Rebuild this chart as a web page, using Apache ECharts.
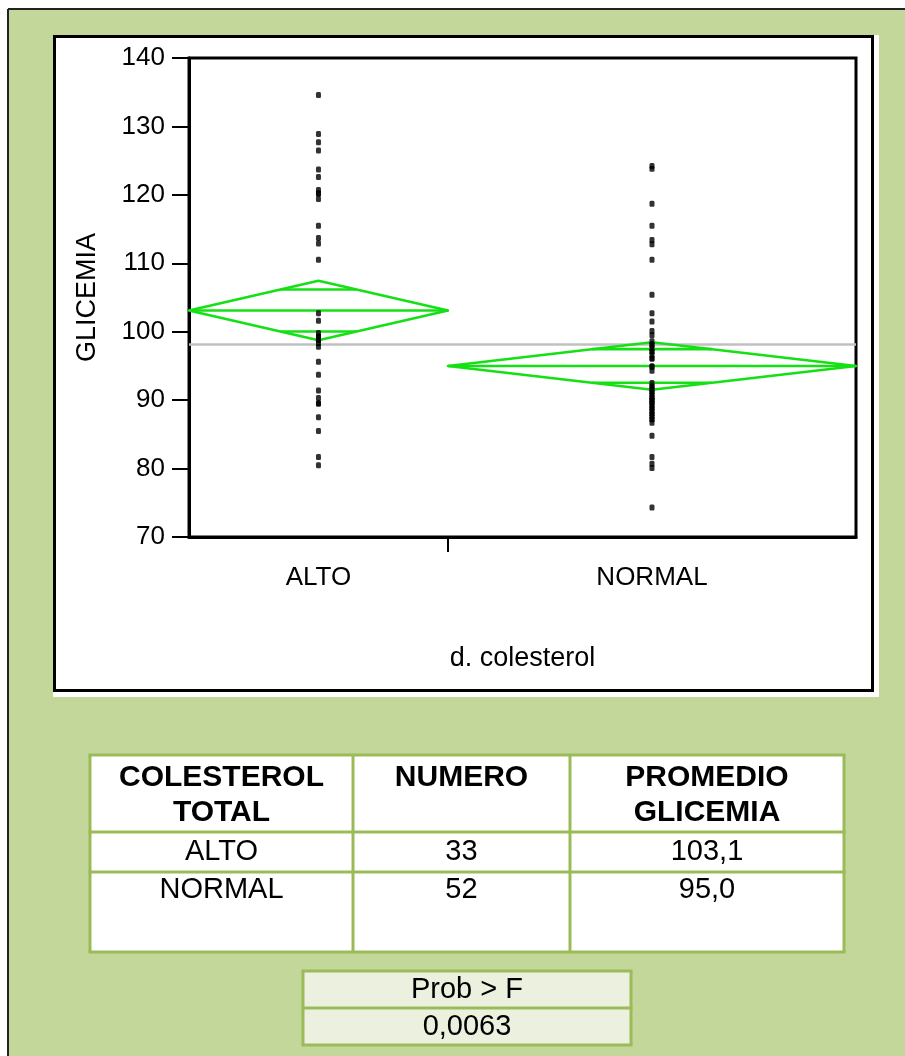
<!DOCTYPE html>
<html><head><meta charset="utf-8">
<script src="https://cdn.jsdelivr.net/npm/echarts@6/dist/echarts.min.js"></script>
<style>html,body{margin:0;padding:0;background:#fff;} #c{width:905px;height:1056px;}</style>
</head><body><div id="c"></div>
<script>
// ---- data ----
const categories = ['ALTO', 'NORMAL'];
const groupCounts = [33, 52];
const groupMeans = [103.1, 95.0];
const ciHalfWidths = [4.35, 3.47];
const grandMean = 98.14;
const altoValues = [134.6, 128.9, 127.7, 126.5, 123.7, 122.6, 120.7, 120.2, 120.2, 119.4, 115.5, 113.7, 112.9, 110.5,
  102.7, 101.6, 99.8, 99.3, 99.3, 98.8, 98.8, 98.3, 97.8, 95.6, 93.7, 91.4, 90.3, 89.5, 89.5, 87.5, 85.5, 81.7, 80.5];
const normalValues = [124.2, 123.8, 118.7, 115.5, 113.4, 112.8, 110.5, 105.4, 102.7, 101.5, 100.1, 99.5,
  98.6, 98.1, 98.1, 97.6, 97.1, 97.1, 96.6, 96.1, 96.1, 94.9, 94.9, 94.3, 92.5, 92.0, 92.0, 91.6, 91.2, 91.2,
  90.8, 90.4, 90.4, 90.0, 90.0, 89.6, 89.6, 89.2, 88.8, 88.8, 88.4, 88.0, 88.0, 87.6, 87.2, 87.2, 86.7, 84.8,
  81.7, 80.7, 80.1, 74.3];
const yMin = 70, yMax = 140, yInterval = 10;
const xAxisTitle = 'd. colesterol';
const yAxisTitle = 'GLICEMIA';
const tableHeader = ['COLESTEROL\nTOTAL', 'NUMERO', 'PROMEDIO\nGLICEMIA'];
const tableRows = [['ALTO', '33', '103,1'], ['NORMAL', '52', '95,0']];
const probLabel = 'Prob > F';
const probValue = '0,0063';

// ---- derived ----
const totalN = groupCounts.reduce((a, b) => a + b, 0);
const starts = [], ends = [], centers = [];
let acc = 0;
groupCounts.forEach(n => { starts.push(acc); ends.push(acc + n); centers.push(acc + n / 2); acc += n; });
const groupValues = [altoValues, normalValues];

const GREEN = '#14e014';
const TBL = '#9bbb59';
const FONT = '"Liberation Sans", Arial, sans-serif';

const chart = echarts.init(document.getElementById('c'), null, {renderer: 'canvas'});

function txt(t, x, y, size, bold) {
  return {type: 'text', z: -1, silent: true,
    style: {text: t, x: x, y: y, fill: '#000', font: (bold ? 'bold ' : '') + size + 'px ' + FONT,
      textAlign: 'center', textVerticalAlign: 'middle'}};
}
function ln(x1, y1, x2, y2, color, w) {
  return {type: 'line', z: -1, silent: true, shape: {x1, y1, x2, y2}, style: {stroke: color, lineWidth: w}};
}

const g = [];
g.push({type: 'rect', z: -3, silent: true, shape: {x: 8, y: 9, width: 897, height: 1047}, style: {fill: '#c4d79b'}});
g.push(ln(8, 9, 905, 9, '#222', 2));
g.push(ln(8, 9, 8, 1056, '#222', 2));
g.push({type: 'rect', z: -2, silent: true, shape: {x: 53, y: 35, width: 826, height: 662}, style: {fill: '#fff'}});
g.push(ln(53, 36.5, 874, 36.5, '#000', 3));
g.push(ln(54.5, 35, 54.5, 692, '#000', 3));
g.push(ln(872.5, 35, 872.5, 692, '#000', 3));
g.push(ln(53, 690.5, 874, 690.5, '#000', 3));

// table 1
const tX = [90, 353, 570, 844], tY = [755, 832, 872, 952];
g.push({type: 'rect', z: -2, silent: true, shape: {x: tX[0], y: tY[0], width: tX[3] - tX[0], height: tY[3] - tY[0]}, style: {fill: '#fff'}});
tX.forEach(x => g.push(ln(x, tY[0], x, tY[3], TBL, 3)));
tY.forEach(y => g.push(ln(tX[0] - 1.5, y, tX[3] + 1.5, y, TBL, 3)));
tableHeader.forEach((h, i) => {
  const cx = (tX[i] + tX[i + 1]) / 2;
  h.split('\n').forEach((l, k) => g.push(txt(l, cx, 778 + k * 35, 30, true)));
});
tableRows.forEach((r, ri) => {
  r.forEach((c, ci) => g.push(txt(c, (tX[ci] + tX[ci + 1]) / 2, ri === 0 ? 852 : 890, 29, false)));
});
// table 2
const pX = [303, 631], pY = [971, 1008, 1045];
g.push({type: 'rect', z: -2, silent: true, shape: {x: pX[0], y: pY[0], width: pX[1] - pX[0], height: pY[2] - pY[0]}, style: {fill: '#ebf1de'}});
pX.forEach(x => g.push(ln(x, pY[0], x, pY[2], TBL, 3)));
pY.forEach(y => g.push(ln(pX[0] - 1.5, y, pX[1] + 1.5, y, TBL, 3)));
g.push(txt(probLabel, (pX[0] + pX[1]) / 2, 990, 29, false));
g.push(txt(probValue, (pX[0] + pX[1]) / 2, 1027, 29, false));

const option = {
  animation: false,
  textStyle: {fontFamily: FONT},
  graphic: {elements: g},
  grid: {left: 189, top: 58, width: 667, height: 479, show: true, backgroundColor: '#fff', borderColor: '#000', borderWidth: 3, z: 0},
  xAxis: {
    type: 'value', min: 0, max: totalN,
    name: xAxisTitle, nameLocation: 'middle', nameGap: 108,
    nameTextStyle: {color: '#000', fontSize: 27, fontFamily: FONT},
    axisLine: {show: true, lineStyle: {color: '#000', width: 3}},
    axisTick: {show: true, customValues: [ends[0]], length: 15, lineStyle: {color: '#000', width: 2}},
    axisLabel: {show: true, customValues: centers, color: '#000', fontSize: 26, margin: 28, fontFamily: FONT,
      formatter: v => { const i = centers.indexOf(v); return i >= 0 ? categories[i] : ''; }},
    splitLine: {show: false}
  },
  yAxis: {
    type: 'value', min: yMin, max: yMax, interval: yInterval,
    name: yAxisTitle, nameLocation: 'middle', nameGap: 88, nameRotate: 90,
    nameTextStyle: {color: '#000', fontSize: 27, fontFamily: FONT},
    axisLine: {show: true, lineStyle: {color: '#000', width: 3}},
    axisTick: {show: true, length: 17, lineStyle: {color: '#000', width: 2}},
    axisLabel: {color: '#000', fontSize: 26, margin: 24, fontFamily: FONT},
    splitLine: {show: false}
  },
  series: [
    {type: 'line', data: [[0, grandMean], [totalN, grandMean]], symbol: 'none', silent: true,
      lineStyle: {color: '#c0c0c0', width: 2.5}, z: 2},
    {type: 'custom', silent: true, z: 3,
      data: categories.map((c, i) => [starts[i], ends[i], groupMeans[i], ciHalfWidths[i]]),
      encode: {x: [0, 1], y: [2]},
      renderItem: (params, api) => {
        const x0 = api.value(0), x1 = api.value(1), m = api.value(2), ci = api.value(3);
        const xc = (x0 + x1) / 2;
        const d = ci / Math.SQRT2;
        const hw = (x1 - x0) / 2 * (1 - 1 / Math.SQRT2);
        const L = api.coord([x0, m]), R = api.coord([x1, m]), T = api.coord([xc, m + ci]), B = api.coord([xc, m - ci]);
        const u1 = api.coord([xc - hw, m + d]), u2 = api.coord([xc + hw, m + d]);
        const l1 = api.coord([xc - hw, m - d]), l2 = api.coord([xc + hw, m - d]);
        const st = {stroke: GREEN, lineWidth: 2.6, fill: null, lineJoin: 'round'};
        return {type: 'group', children: [
          {type: 'polygon', shape: {points: [L, T, R, B]}, style: st},
          {type: 'line', shape: {x1: L[0], y1: L[1], x2: R[0], y2: R[1]}, style: st},
          {type: 'line', shape: {x1: u1[0], y1: u1[1], x2: u2[0], y2: u2[1]}, style: st},
          {type: 'line', shape: {x1: l1[0], y1: l1[1], x2: l2[0], y2: l2[1]}, style: st}
        ]};
      }},
    {type: 'scatter', silent: true, z: 5, symbol: 'roundRect', symbolSize: [5, 6],
      itemStyle: {color: '#000'},
      data: groupValues.flatMap((vals, i) => vals.map(v => [centers[i], v]))}
  ]
};
chart.setOption(option);
</script></body></html>
